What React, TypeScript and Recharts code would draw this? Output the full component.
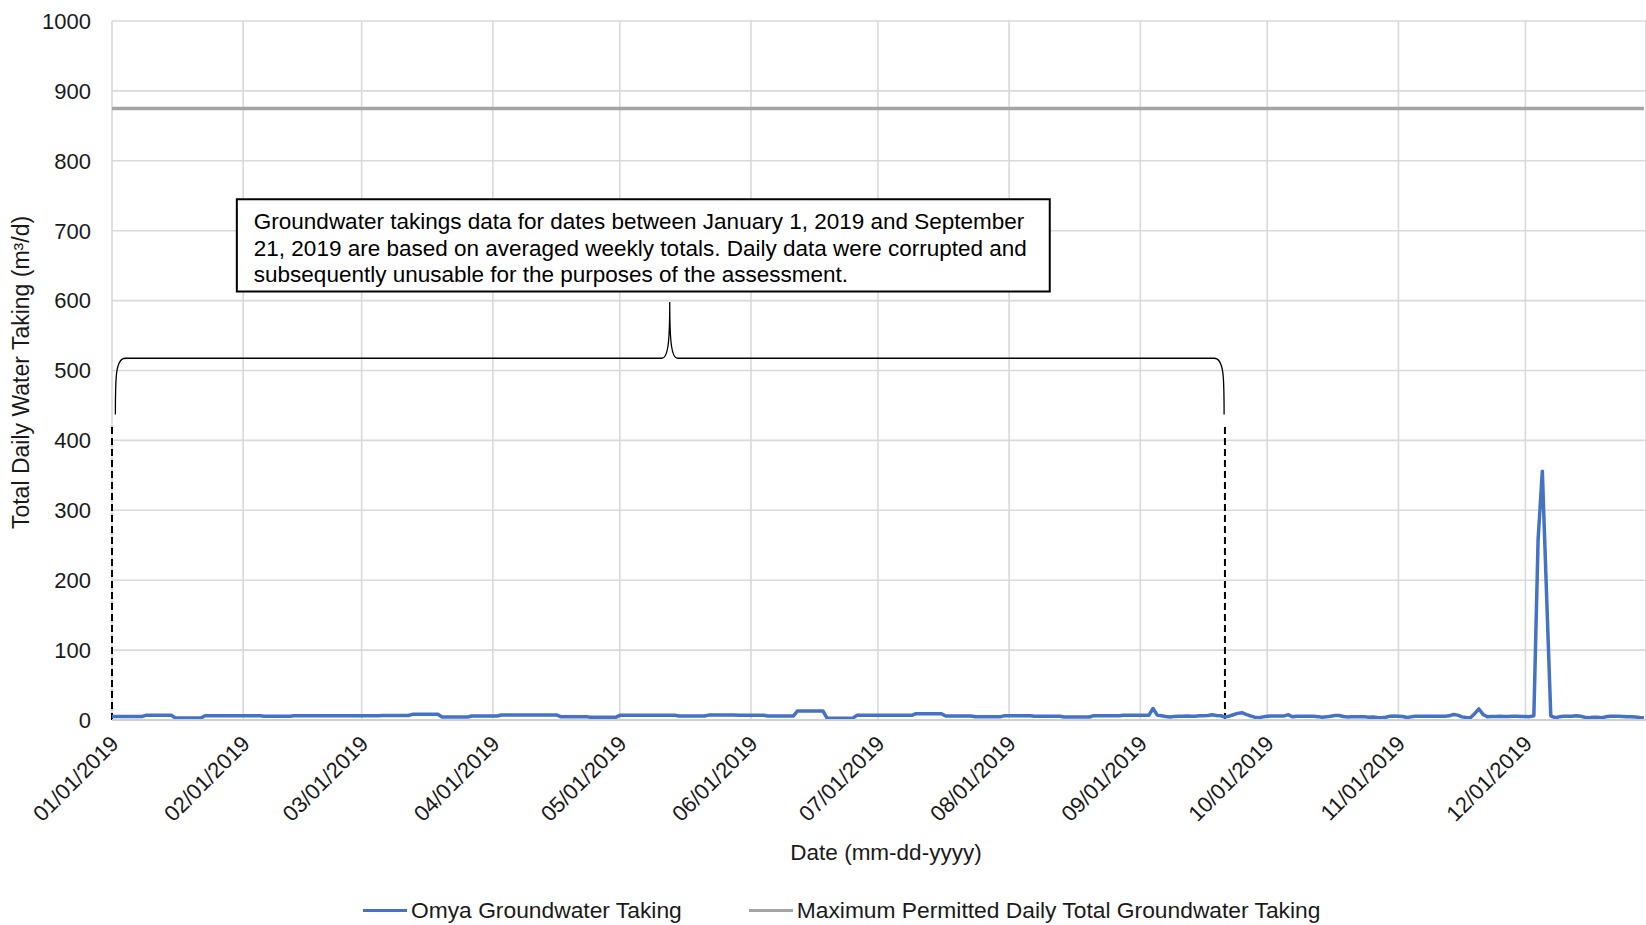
import React from "react";
import {
  LineChart,
  Line,
  XAxis,
  YAxis,
  CartesianGrid,
  Legend,
  ReferenceLine,
  ReferenceArea,
} from "recharts";

const FONT = "'Liberation Sans', Arial, sans-serif";
const TEXT = "#1a1a1a";
const BLUE = "#4472c4";
const GRAY = "#a5a5a5";

// x axis: day of year 2019 (0 = Jan 1)
const monthStartDays = [0, 31, 59, 90, 120, 151, 181, 212, 243, 273, 304, 334];
const monthLabels = [
  "01/01/2019",
  "02/01/2019",
  "03/01/2019",
  "04/01/2019",
  "05/01/2019",
  "06/01/2019",
  "07/01/2019",
  "08/01/2019",
  "09/01/2019",
  "10/01/2019",
  "11/01/2019",
  "12/01/2019",
];
const yTicks = [0, 100, 200, 300, 400, 500, 600, 700, 800, 900, 1000];
const lastDay = 362;

// averaged weekly totals, one value per 7-day block (Jan 2 – Sep 3)
const weeklyAverages = [
  5, 6.7, 2.9, 6.2, 6.2, 5.3, 6, 6, 6, 6.5, 8.1, 4.3, 5.7, 7.2, 7.2, 4.8, 3.8, 6.7,
  6.7, 5.7, 7, 6.7, 5.7, 12.9, 2.4, 6.7, 6.7, 9, 5.7, 4.8, 6.2, 5.3, 4.3, 6.2, 6.7,
];
const weeklyLastDay = 245;

// daily values from Sep 4 (day 246) onwards
const dailyValues = [
  16.5, 7, 6, 5, 4.3, 5, 5.5, 5.5, 5.8, 5.5,
  5.5, 6, 6, 6.5, 7.6, 6.5, 6, 4.3, 5.5, 7.5,
  9.5, 10.5, 8, 6, 4, 3.3, 4.5, 5.5, 5.8, 5.7,
  5.7, 5.8, 7.6, 4.5, 5.3, 5.5, 5.5, 5.3, 5.3, 4.8,
  3.8, 4.5, 5.5, 6.5, 6.5, 5, 4.3, 4.8, 4.8, 4.8,
  4.5, 4, 4.2, 3.5, 3.3, 4, 5.5, 5.7, 5.5, 5,
  3.5, 4.5, 5.3, 5.3, 5.3, 5.3, 5.3, 5.3, 5.5, 5.5,
  6, 8, 7, 4.5, 3.5, 3.3, 9, 15.8, 8, 4.5,
  5, 5, 5.3, 5, 5, 5.3, 5.3, 5, 5, 4.8,
  6, 258, 356, 180, 6, 3.3, 4.5, 5.3, 5.3, 5.5,
  6.2, 5.5, 4, 3.3, 4, 4, 3.3, 4.5, 5.3, 5.3,
  5.3, 5, 4.8, 4.8, 4.3, 3.5, 3.3,
];

const maxPermitted = 875;

const seriesNames = [
  "Omya Groundwater Taking",
  "Maximum Permitted Daily Total Groundwater Taking",
];

// annotation bits
const dashedMarkerDays = [0, 263];
const dashedMarkerTop = 420;
const braceFrom = { day: 0.8, value: 437 };
const braceTo = { day: 262.8, value: 598 };
const noteBox = { x1: 29.5, x2: 221.6, y1: 613, y2: 745 };
const noteLines = [
  "Groundwater takings data for dates between January 1, 2019 and September",
  "21, 2019 are based on averaged weekly totals. Daily data were corrupted and",
  "subsequently unusable for the purposes of the assessment.",
];

const data = Array.from({ length: lastDay + 1 }, (_, day) => {
  const omya =
    day <= weeklyLastDay
      ? weeklyAverages[Math.max(0, Math.floor((day - 1) / 7))]
      : dailyValues[day - weeklyLastDay - 1];
  return { day, omya, permitted: maxPermitted };
});

const XTick = (props: any) => {
  const { x, y, payload } = props;
  const label = monthLabels[monthStartDays.indexOf(payload.value)] ?? "";
  return (
    <g transform={`translate(${x + 8},${y + 25})`}>
      <text
        textAnchor="end"
        transform="rotate(-45)"
        fontSize={22}
        fontFamily={FONT}
        fill={TEXT}
      >
        {label}
      </text>
    </g>
  );
};

const XTitle = (props: any) => {
  const { viewBox } = props;
  return (
    <text
      x={viewBox.x + viewBox.width / 2 + 7}
      y={852}
      textAnchor="middle"
      dominantBaseline="central"
      fontSize={22.5}
      fontFamily={FONT}
      fill={TEXT}
    >
      Date (mm-dd-yyyy)
    </text>
  );
};

const YTitle = (props: any) => {
  const { viewBox } = props;
  const cx = 21;
  const cy = viewBox.y + viewBox.height / 2 + 2;
  return (
    <text
      x={cx}
      y={cy}
      transform={`rotate(-90, ${cx}, ${cy})`}
      textAnchor="middle"
      dominantBaseline="central"
      fontSize={23}
      fontFamily={FONT}
      fill={TEXT}
    >
      Total Daily Water Taking (m³/d)
    </text>
  );
};

const NoteText = (props: any) => {
  const { viewBox } = props;
  return (
    <g>
      {noteLines.map((line, i) => (
        <text
          key={i}
          x={viewBox.x + 17}
          y={viewBox.y + 22.5 + i * 26.3}
          dominantBaseline="central"
          fontSize={22.5}
          fontFamily={FONT}
          fill="#000"
        >
          {line}
        </text>
      ))}
    </g>
  );
};

// curly brace drawn between the segment's bottom-left end and its tip
const Brace = (props: any) => {
  const { x1, y1, x2, y2 } = props;
  const left = x1;
  const right = x2;
  const tipX = (left + right) / 2;
  const yEnd = y1;
  const yTip = y2;
  const yMid = (y1 + y2) / 2;
  const d = [
    `M ${left} ${yEnd}`,
    `C ${left} ${yMid + 20} ${left} ${yMid} ${left + 10} ${yMid}`,
    `L ${tipX - 8} ${yMid}`,
    `C ${tipX - 2} ${yMid} ${tipX} ${yMid - 14} ${tipX} ${yTip}`,
    `C ${tipX} ${yMid - 14} ${tipX + 2} ${yMid} ${tipX + 8} ${yMid}`,
    `L ${right - 10} ${yMid}`,
    `C ${right} ${yMid} ${right} ${yMid + 20} ${right} ${yEnd}`,
  ].join(" ");
  return <path d={d} fill="none" stroke="#000" strokeWidth={1.3} />;
};

const renderLegend = (props: any) => {
  const payload = [...(props.payload || [])].sort(
    (a: any, b: any) => seriesNames.indexOf(a.value) - seriesNames.indexOf(b.value)
  );
  return (
    <div
      style={{
        display: "flex",
        alignItems: "center",
        fontFamily: FONT,
        fontSize: 22.8,
        color: TEXT,
        whiteSpace: "nowrap",
      }}
    >
      {payload.map((entry: any, i: number) => (
        <span
          key={entry.value}
          style={{ display: "flex", alignItems: "center", marginLeft: i ? 67 : 0 }}
        >
          <span
            style={{
              display: "inline-block",
              width: 44,
              height: 3.5,
              background: entry.color,
              marginRight: 4,
            }}
          />
          {entry.value}
        </span>
      ))}
    </div>
  );
};

export default function App() {
  return (
    <div style={{ position: "absolute", left: 0, top: 0, background: "#fff" }}>
      <LineChart
        width={1646}
        height={925}
        data={data}
        margin={{ top: 21, right: 0, bottom: 0, left: 0 }}
      >
        <CartesianGrid stroke="#d9d9d9" strokeWidth={1.6} />
        <XAxis
          dataKey="day"
          type="number"
          domain={[0, 362.5]}
          ticks={monthStartDays}
          interval={0}
          allowDataOverflow
          height={205}
          tickLine={false}
          tickSize={0}
          tickMargin={0}
          axisLine={{ stroke: "#d0d0d0", strokeWidth: 2 }}
          tick={<XTick />}
          label={{ content: <XTitle /> }}
        />
        <YAxis
          type="number"
          domain={[0, 1000]}
          ticks={yTicks}
          interval={0}
          width={112}
          axisLine={false}
          tickLine={false}
          tickSize={0}
          tickMargin={21}
          tick={{ fontSize: 22, fontFamily: FONT, fill: TEXT }}
          label={{ content: <YTitle /> }}
        />
        <ReferenceArea
          x1={noteBox.x1}
          x2={noteBox.x2}
          y1={noteBox.y1}
          y2={noteBox.y2}
          fill="#fff"
          fillOpacity={1}
          stroke="#000"
          strokeWidth={2}
          label={{ content: <NoteText /> }}
        />
        <ReferenceLine
          segment={[
            { x: braceFrom.day, y: braceFrom.value },
            { x: braceTo.day, y: braceTo.value },
          ]}
          shape={<Brace />}
        />
        {dashedMarkerDays.map((d) => (
          <ReferenceLine
            key={d}
            segment={[
              { x: d, y: 0 },
              { x: d, y: dashedMarkerTop },
            ]}
            stroke="#000"
            strokeWidth={2}
            strokeDasharray="7 4"
          />
        ))}
        <Line
          name={seriesNames[0]}
          dataKey="omya"
          stroke={BLUE}
          strokeWidth={3.5}
          dot={false}
          activeDot={false}
          isAnimationActive={false}
          strokeLinejoin="round"
        />
        <Line
          name={seriesNames[1]}
          dataKey="permitted"
          stroke={GRAY}
          strokeWidth={3.5}
          dot={false}
          activeDot={false}
          isAnimationActive={false}
        />
        <Legend
          layout="horizontal"
          verticalAlign="middle"
          align="center"
          content={renderLegend}
          wrapperStyle={{ left: 363, top: 897, width: "auto", height: 30 }}
        />
      </LineChart>
    </div>
  );
}
